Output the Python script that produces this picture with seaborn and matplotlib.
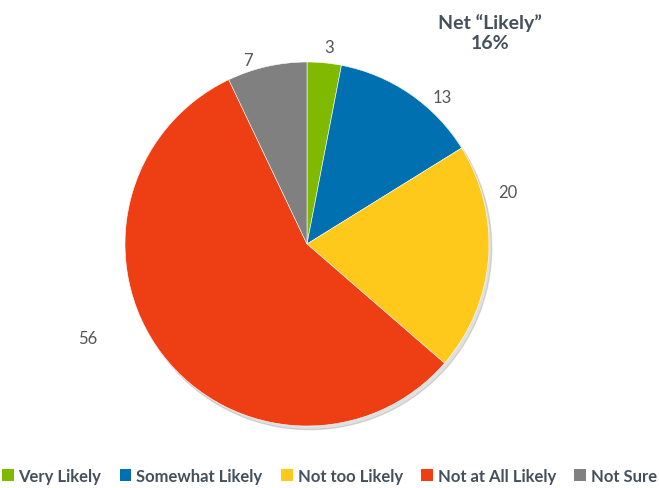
import matplotlib
matplotlib.use("Agg")
import numpy as np
import matplotlib.pyplot as plt
import seaborn as sns
from matplotlib.patches import Patch, Circle

# ---------------------------------
# Data
# ---------------------------------

categories = ["Very Likely", "Somewhat Likely", "Not too Likely", "Not at All Likely", "Not Sure"]
values = [3, 13, 20, 56, 7]
colors = ["#7FBA00", "#0070B0", "#FFC91B", "#EE3E14", "#808080"]
net_label = "Net \u201cLikely\u201d\n16%"

# label placement tweaks (angle shift in degrees, distance from centre)
label_shift = [-1, -8, 19, -14, 5]
label_dist = [1.09, 1.10, 1.14, 1.31, 1.06]

# ---------------------------------
# Style
# ---------------------------------

sns.set_theme(style="white")
plt.rcParams["font.family"] = ["Lato", "DejaVu Sans"]
text_color = "#44505C"

fig = plt.figure(figsize=(6.59, 4.89), dpi=100)
ax = fig.add_axes([79.5 / 659, 16.5 / 489, 455 / 659, 455 / 489])

# faint drop shadow behind the pie
ax.add_patch(Circle((0.015, -0.02), 1.0, color="#000000", alpha=0.12, zorder=0))

wedges, texts = ax.pie(
    values,
    colors=colors,
    labels=[str(v) for v in values],
    startangle=90,
    counterclock=False,
    labeldistance=1.12,
    wedgeprops=dict(linewidth=0.4, edgecolor="white"),
    textprops=dict(color="#555555", fontsize=12),
)
ax.set_aspect("equal")

# move the value labels to Excel-like spots
for w, t, s, d in zip(wedges, texts, label_shift, label_dist):
    mid = np.deg2rad((w.theta1 + w.theta2) / 2 + s)
    t.set_position((d * np.cos(mid), d * np.sin(mid)))
    t.set_ha("center")
    t.set_va("center")

# ---------------------------------
# Annotation and Legend
# ---------------------------------

fig.text(
    490 / 659, 1 - 33 / 489, net_label,
    ha="center", va="center",
    fontsize=14, fontweight="bold", color=text_color,
    linespacing=1.2,
)

handles = [Patch(facecolor=c, edgecolor="none") for c in colors]
fig.legend(
    handles, categories,
    loc="center", bbox_to_anchor=(0.5, 1 - 477 / 489),
    ncol=5, frameon=False,
    handlelength=0.7, handleheight=0.7, handletextpad=0.3,
    columnspacing=1.1,
    prop=dict(weight="bold", size=12),
    labelcolor=text_color,
)

fig.savefig("out.png", dpi=100)
